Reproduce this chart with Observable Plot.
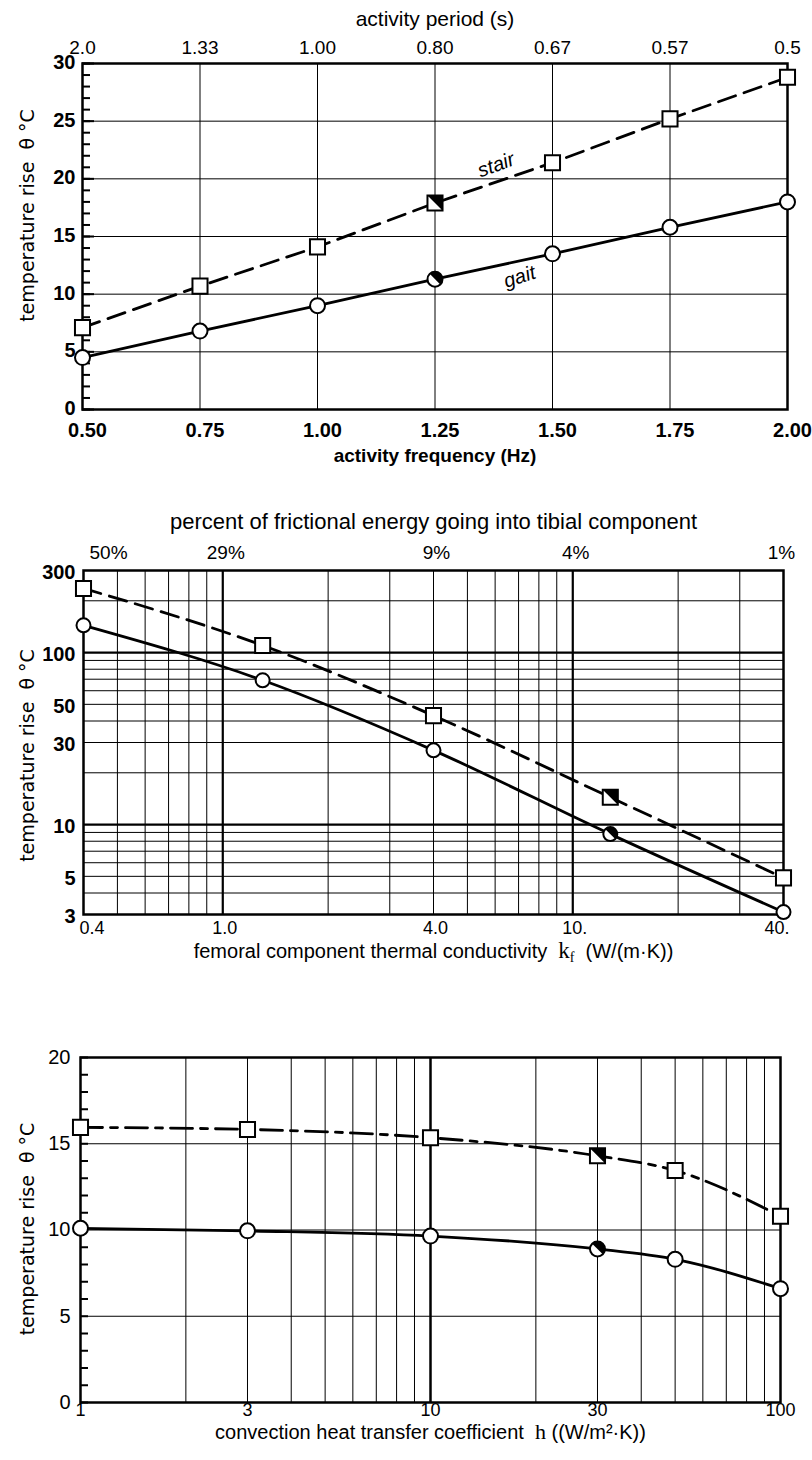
<!DOCTYPE html>
<html><head><meta charset="utf-8">
<script src="https://cdn.jsdelivr.net/npm/d3@7"></script>
<script src="https://cdn.jsdelivr.net/npm/@observablehq/plot@0.6"></script>
<style>
body{margin:0;background:#fff;}
#wrap{position:relative;width:812px;height:1460px;background:#fff;}
.chart{position:absolute;left:0;}
</style></head><body><div id="wrap"></div>
<script>
// ---------- data: chart 1 (activity frequency) ----------
const freq = [0.5, 0.75, 1.0, 1.25, 1.5, 1.75, 2.0];
const periodLabels = ["2.0", "1.33", "1.00", "0.80", "0.67", "0.57", "0.5"];
const gaitFreqTemp = [4.5, 6.8, 9.0, 11.3, 13.5, 15.8, 18.0];
const stairFreqTemp = [7.1, 10.7, 14.1, 17.9, 21.4, 25.2, 28.8];
const tempTicks30 = [0, 5, 10, 15, 20, 25, 30];
const seriesLabels1 = [
  {text: "stair", x: 1.38, y: 21.2, angle: -20},
  {text: "gait", x: 1.43, y: 11.5, angle: -18}
];

// ---------- data: chart 2 (femoral thermal conductivity) ----------
const kf = [0.4, 1.3, 4.0, 12.8, 40];
const gaitKfTemp = [144, 69, 27, 8.8, 3.1];
const stairKfTemp = [236, 110, 43, 14.4, 4.9];
const kfTicks = [0.4, 1, 4, 10, 40];
const kfTickLabels = ["0.4", "1.0", "4.0", "10.", "40."];
const tibialPctLabels = ["50%", "29%", "9%", "4%", "1%"];
const kfTempTicks = [3, 5, 10, 30, 50, 100, 300];
const kfGridThin = [0.5, 0.6, 0.7, 0.8, 0.9, 2, 3, 4, 5, 6, 7, 8, 9, 20, 30];
const kfGridThick = [1, 10];
const kfTempGridThin = [4, 5, 6, 7, 8, 9, 20, 30, 40, 50, 60, 70, 80, 90, 200];
const kfTempGridThick = [10, 100];

// ---------- data: chart 3 (convection coefficient) ----------
const hConv = [1, 3, 10, 30, 50, 100];
const gaitHTemp = [10.1, 9.95, 9.65, 8.9, 8.3, 6.6];
const stairHTemp = [15.95, 15.83, 15.35, 14.3, 13.45, 10.8];
const hTicks = [1, 3, 10, 30, 100];
const hGridThin = [2, 3, 4, 5, 6, 7, 8, 9, 20, 30, 40, 50, 60, 70, 80, 90];
const hGridThick = [10];
const tempTicks20 = [0, 5, 10, 15, 20];

const halfIndex = 3; // the half-filled marker in each series

const yTitleText = "temperature rise\u00a0\u00a0\u03b8 \u00b0C";
const FONT = "'Liberation Sans', Arial, sans-serif";
const TFONT = "'DejaVu Sans', Verdana, sans-serif";

// custom half-filled symbols (upper-right half)
const halfCircle = {draw(ctx, size) {
  const r = Math.sqrt(size / Math.PI);
  ctx.moveTo(-r * Math.SQRT1_2, -r * Math.SQRT1_2);
  ctx.arc(0, 0, r, -3 * Math.PI / 4, Math.PI / 4);
  ctx.closePath();
}};
const halfSquare = {draw(ctx, size) {
  const h = Math.sqrt(size) / 2;
  ctx.moveTo(-h, -h); ctx.lineTo(h, -h); ctx.lineTo(h, h); ctx.closePath();
}};

const series = (xs, ys) => xs.map((x, i) => ({x, y: ys[i], i}));

function seriesMarks(gait, stair, dash, curve, rC, rS) {
  return [
    Plot.line(stair, {x: "x", y: "y", stroke: "black", strokeWidth: 2.8, strokeDasharray: dash, curve}),
    Plot.line(gait, {x: "x", y: "y", stroke: "black", strokeWidth: 2.8, curve}),
    Plot.dot(stair, {x: "x", y: "y", symbol: "square", r: rS, fill: "white", stroke: "black", strokeWidth: 2}),
    Plot.dot(stair.filter(d => d.i === halfIndex), {x: "x", y: "y", symbol: halfSquare, r: rS, fill: "black"}),
    Plot.dot(gait, {x: "x", y: "y", r: rC, fill: "white", stroke: "black", strokeWidth: 2}),
    Plot.dot(gait.filter(d => d.i === halfIndex), {x: "x", y: "y", symbol: halfCircle, r: rC, fill: "black"})
  ];
}

function yTitle(dx, dy) {
  return Plot.text([yTitleText], {text: d => d, frameAnchor: "left", rotate: -90, dx, dy,
    textAnchor: "middle", lineAnchor: "bottom", fontSize: 19, fontFamily: TFONT});
}

function minorTicks(values, pw, len) {
  return Plot.ruleY(values, {y: d => d, insetRight: pw - len, stroke: "black", strokeWidth: 2});
}

const grid = {stroke: "black", strokeOpacity: 1, strokeWidth: 1};

function place(svg, top) {
  const div = document.createElement("div");
  div.className = "chart";
  div.style.top = top + "px";
  div.appendChild(svg);
  document.getElementById("wrap").appendChild(div);
}

// ---------------- chart 1 ----------------
{
  const W = 812, H = 470, mL = 82, mR = 25, mT = 63, mB = 61;
  const pw = W - mL - mR;
  const gait = series(freq, gaitFreqTemp);
  const stair = series(freq, stairFreqTemp);
  const svg = Plot.plot({
    width: W, height: H, marginLeft: mL, marginRight: mR, marginTop: mT, marginBottom: mB,
    style: {fontFamily: FONT, background: "white", color: "black"},
    x: {domain: [0.5, 2.0]},
    y: {domain: [0, 30]},
    marks: [
      Plot.gridX(freq.slice(1, -1), grid),
      Plot.gridY(tempTicks30.slice(1, -1), grid),
      minorTicks(d3.range(0, 31), pw, 8),
      minorTicks(tempTicks30, pw, 12),
      Plot.frame({stroke: "black", strokeWidth: 2.5}),
      Plot.axisX(freq, {anchor: "bottom", tickSize: 0, tickPadding: 13, dx: 5, label: null,
        tickFormat: d => d.toFixed(2), fontSize: 20, fontWeight: "bold"}),
      Plot.axisX(freq, {anchor: "top", tickSize: 0, tickPadding: 10, label: null,
        tickFormat: d => periodLabels[freq.indexOf(d)], fontSize: 19}),
      Plot.axisY(tempTicks30, {anchor: "left", tickSize: 0, tickPadding: 7, dy: -1, label: null,
        fontSize: 20, fontWeight: "bold"}),
      Plot.text(["activity period (s)"], {text: d => d, frameAnchor: "top", dy: -38, lineAnchor: "bottom", fontSize: 21}),
      Plot.text(["activity frequency (Hz)"], {text: d => d, frameAnchor: "bottom", dy: 52, lineAnchor: "bottom", fontSize: 19, fontWeight: "bold"}),
      yTitle(-49, -21),
      ...seriesMarks(gait, stair, "18,9", "linear", 7.5, 8.5),
      Plot.text(seriesLabels1, {x: "x", y: "y", text: "text", rotate: "angle", fontSize: 20, fontStyle: "italic"})
    ]
  });
  place(svg, 0);
}

function edgeText(data, common, firstOpts, midOpts, lastOpts) {
  const n = data.length;
  return [
    Plot.text(data.filter((d, i) => i === 0), {...common, ...firstOpts}),
    Plot.text(data.filter((d, i) => i > 0 && i < n - 1), {...common, ...midOpts}),
    Plot.text(data.filter((d, i) => i === n - 1), {...common, ...lastOpts})
  ];
}

// ---------------- chart 2 ----------------
{
  const W = 812, H = 495, mL = 83, mR = 29, mT = 100, mB = 51;
  const gait = series(kf, gaitKfTemp);
  const stair = series(kf, stairKfTemp);
  const bottomLab = kfTicks.map((x, i) => ({x, t: kfTickLabels[i]}));
  const topLab = kfTicks.map((x, i) => ({x, t: tibialPctLabels[i]}));
  const svg = Plot.plot({
    width: W, height: H, marginLeft: mL, marginRight: mR, marginTop: mT, marginBottom: mB,
    style: {fontFamily: FONT, background: "white", color: "black"},
    x: {type: "log", domain: [0.4, 40], axis: null},
    y: {type: "log", domain: [3, 300]},
    marks: [
      Plot.gridX(kfGridThin, grid),
      Plot.gridY(kfTempGridThin, grid),
      Plot.gridX(kfGridThick, {...grid, strokeWidth: 2.2}),
      Plot.gridY(kfTempGridThick, {...grid, strokeWidth: 2.2}),
      Plot.frame({stroke: "black", strokeWidth: 2.5}),
      Plot.axisY(kfTempTicks, {anchor: "left", tickSize: 0, tickPadding: 8, dy: 2, label: null,
        tickFormat: d => String(d), fontSize: 20, fontWeight: "bold"}),
      ...edgeText(bottomLab, {x: "x", text: "t", frameAnchor: "bottom", dy: 19, lineAnchor: "bottom", fontSize: 18},
        {textAnchor: "start", dx: -4}, {textAnchor: "middle", dx: 2}, {textAnchor: "end", dx: 6}),
      ...edgeText(topLab, {x: "x", text: "t", frameAnchor: "top", dy: -12, lineAnchor: "bottom", fontSize: 19},
        {textAnchor: "start", dx: 6}, {textAnchor: "middle", dx: 3}, {textAnchor: "middle", dx: -2}),
      Plot.text(["percent of frictional energy going into tibial component"], {text: d => d, frameAnchor: "top", dy: -42, lineAnchor: "bottom", fontSize: 22}),
      Plot.text(["femoral component thermal conductivity"], {text: d => d, frameAnchor: "bottom", dy: 43, lineAnchor: "bottom", fontSize: 20, className: "kftitle"}),
      yTitle(-50, 13),
      ...seriesMarks(gait, stair, "18,9", "monotone-x", 7, 8.5)
    ]
  });
  const t = svg.querySelector("g.kftitle text");
  if (t) {
    t.style.whiteSpace = "pre";
    t.innerHTML = 'femoral component thermal conductivity  <tspan font-family="Liberation Serif, serif" font-size="23">k</tspan><tspan font-family="Liberation Serif, serif" font-size="14" dy="4">f</tspan><tspan dy="-4">  (W/(m\u00b7K))</tspan>';
  }
  place(svg, 470);
}

// ---------------- chart 3 ----------------
{
  const W = 812, H = 495, mL = 80, mR = 32, mT = 92, mB = 58;
  const pw = W - mL - mR;
  const gait = series(hConv, gaitHTemp);
  const stair = series(hConv, stairHTemp);
  const svg = Plot.plot({
    width: W, height: H, marginLeft: mL, marginRight: mR, marginTop: mT, marginBottom: mB,
    style: {fontFamily: FONT, background: "white", color: "black"},
    x: {type: "log", domain: [1, 100]},
    y: {domain: [0, 20]},
    marks: [
      Plot.gridX(hGridThin, grid),
      Plot.gridX(hGridThick, {...grid, strokeWidth: 2.5}),
      Plot.gridY(tempTicks20.slice(1, -1), grid),
      minorTicks(d3.range(0, 21), pw, 8),
      Plot.frame({stroke: "black", strokeWidth: 2.5}),
      Plot.axisY(tempTicks20, {anchor: "left", tickSize: 0, tickPadding: 10, label: null,
        tickFormat: d => String(d), fontSize: 20}),
      Plot.axisX(hTicks, {anchor: "bottom", tickSize: 0, tickPadding: 1, label: null,
        tickFormat: d => String(d), fontSize: 18}),
      Plot.text(["convection heat transfer coefficient"], {text: d => d, frameAnchor: "bottom", dy: 36, lineAnchor: "bottom", fontSize: 20, className: "htitle"}),
      yTitle(-47, -1),
      ...seriesMarks(gait, stair, "22,8,7,8", "monotone-x", 7.5, 8.5)
    ]
  });
  const t = svg.querySelector("g.htitle text");
  if (t) {
    t.style.whiteSpace = "pre";
    t.innerHTML = 'convection heat transfer coefficient  <tspan font-family="Liberation Serif, serif" font-size="22">h</tspan> ((W/m\u00b2\u00b7K))';
  }
  place(svg, 965);
}
</script></body></html>
